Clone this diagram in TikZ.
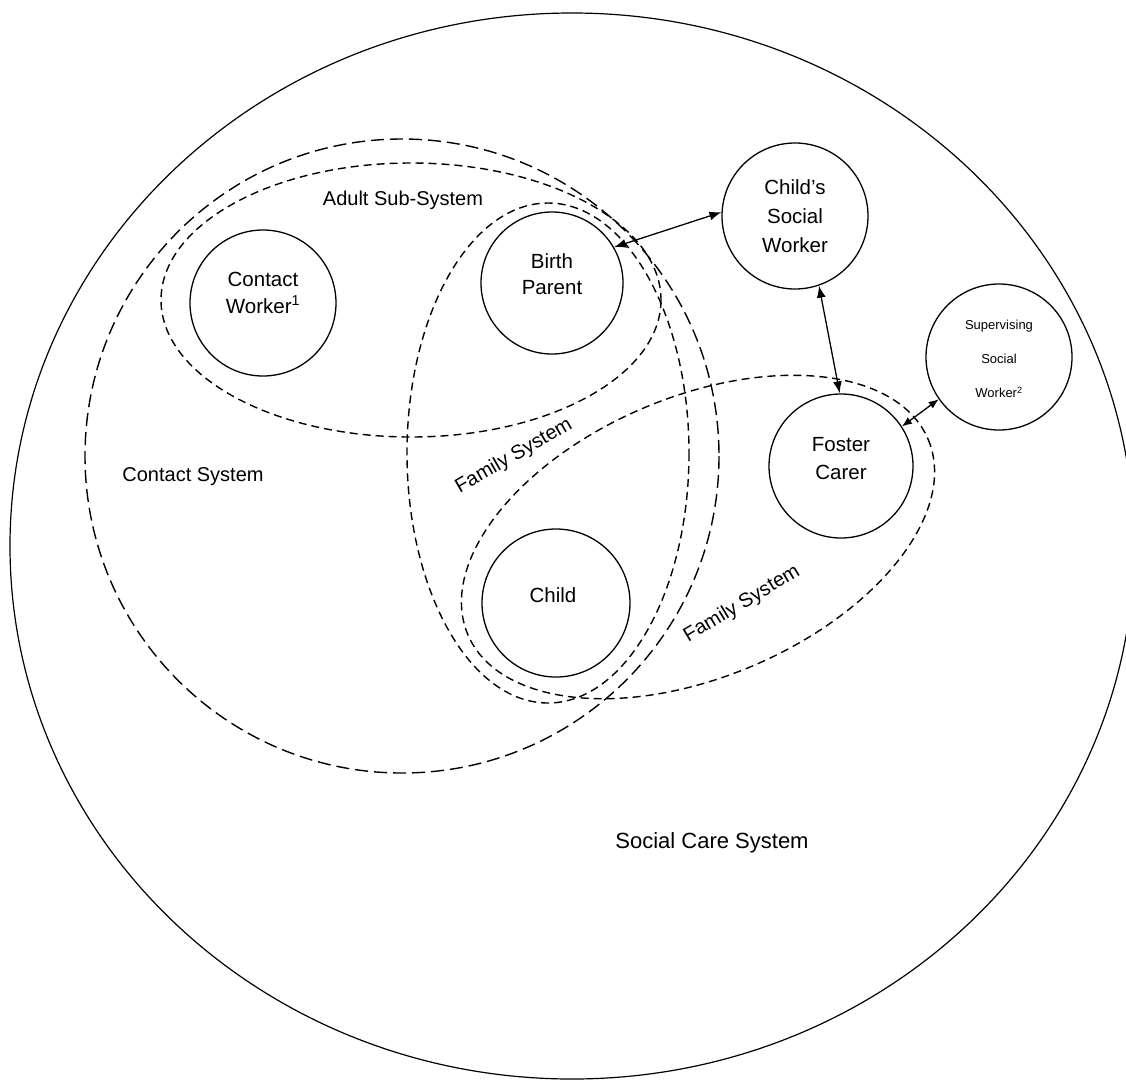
\documentclass[tikz,border=0pt]{standalone}
\usepackage{fontspec}
\setmainfont{Liberation Sans}
\usetikzlibrary{arrows.meta}
\begin{document}
\begin{tikzpicture}[x=1pt,y=-1pt,
  agent/.style={circle,draw=black,line width=1.3pt,inner sep=0pt,minimum size=146pt},
  lbl/.style={align=center,inner sep=0pt,font=\fontsize{20.5}{26.5}\selectfont},
  syslbl/.style={inner sep=0pt,font=\fontsize{20}{24}\selectfont},
  longdashes/.style={line width=1.4pt,dash pattern=on 13pt off 6pt},
  shortdashes/.style={line width=1.4pt,dash pattern=on 8pt off 5pt},
  link/.style={line width=1.3pt,{Latex[length=12pt,width=9pt]}-{Latex[length=12pt,width=9pt]}},
  smalllink/.style={line width=1.3pt,{Latex[length=10pt,width=8pt]}-{Latex[length=10pt,width=8pt]}}]

\fill[white] (0,0) rectangle (1126,1082);
\clip (0,0) rectangle (1126,1082);

% social care system boundary
\draw[line width=1.2pt] (572,546) ellipse [x radius=562, y radius=533];

% system boundaries
\draw[longdashes] (402,456) circle [radius=317];
\draw[shortdashes] (411,300) ellipse [x radius=250, y radius=137];
\draw[shortdashes] (548,453) ellipse [x radius=141, y radius=250];
\draw[shortdashes, rotate around={23:(698,537)}] (698,537) ellipse [x radius=250, y radius=140];

% people
\node[agent] (cw)  at (263,303) {};
\node[agent,minimum size=142pt] (bp)  at (552,283) {};
\node[agent] (csw) at (795,216) {};
\node[agent] (ssw) at (999,357) {};
\node[agent,minimum size=144pt] (fc)  at (841,466) {};
\node[agent,minimum size=148pt] (ch)  at (556,603) {};

\node[lbl] (cwt) at (263,293) {Contact\\Worker\textsuperscript{1}};
\node[lbl] (bpt) at (552,274) {Birth\\Parent};
\node[lbl,font=\fontsize{20.5}{29}\selectfont] (cswt) at (795,216) {Child’s\\Social\\Worker};
\node[lbl,font=\fontsize{13}{34}\selectfont] (sswt) at (999,359) {Supervising\\Social\\Worker\textsuperscript{2}};
\node[lbl,font=\fontsize{20.5}{28}\selectfont] (fct) at (841,459) {Foster\\Carer};
\node[lbl] (cht) at (553,595) {Child};

% system labels
\node[syslbl] (adult) at (403,200) {Adult Sub-System};
\node[syslbl] (contact) at (193,477) {Contact System};
\node[syslbl,rotate=30] (fam1) at (514,456) {Family System};
\node[syslbl,rotate=31] (fam2) at (742,604) {Family System};
\node[syslbl,font=\fontsize{22}{26}\selectfont] (social) at (712,843) {Social Care System};

% relationships
\draw[link] (bp.30) -- (csw.177);
\draw[link] (csw.-71) -- (fc.91);
\draw[smalllink] (fc.33) -- (ssw.215);
\end{tikzpicture}
\end{document}
